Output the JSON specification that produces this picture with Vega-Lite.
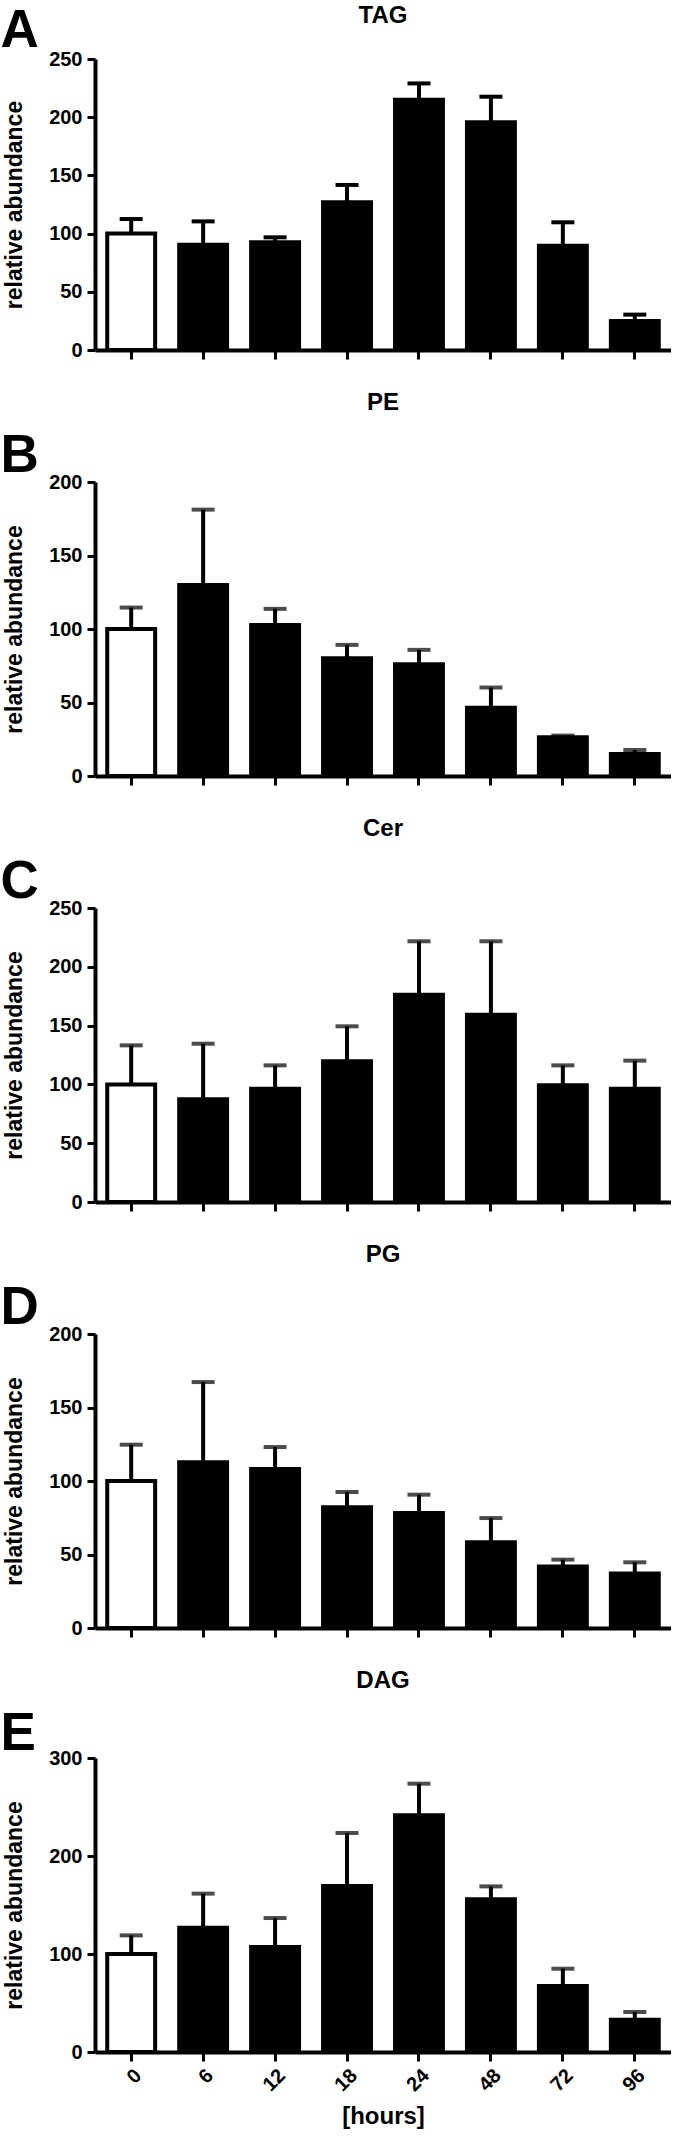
{
  "$schema": "https://vega.github.io/schema/vega-lite/v6.json",
  "padding": {"left": 0, "top": 4, "right": 0, "bottom": 0},
  "config": {
    "font": "Liberation Sans",
    "view": {"stroke": null},
    "title": {"fontSize": 24, "fontWeight": "bold", "color": "black", "anchor": "middle", "frame": "group"},
    "axis": {"domainColor": "black", "tickColor": "black", "labelColor": "black", "titleColor": "black", "grid": false}
  },
  "datasets": {
    "lip": [
      {"lipid": "TAG", "h": "0", "mean": 100, "upper": 112.5},
      {"lipid": "TAG", "h": "6", "mean": 90.5, "upper": 110.5},
      {"lipid": "TAG", "h": "12", "mean": 92.5, "upper": 96.8},
      {"lipid": "TAG", "h": "18", "mean": 126.9, "upper": 141.8},
      {"lipid": "TAG", "h": "24", "mean": 215, "upper": 229},
      {"lipid": "TAG", "h": "48", "mean": 195.6, "upper": 217.6},
      {"lipid": "TAG", "h": "72", "mean": 89.6, "upper": 109.7},
      {"lipid": "TAG", "h": "96", "mean": 24.9, "upper": 30.4},
      {"lipid": "PE", "h": "0", "mean": 100, "upper": 114.6},
      {"lipid": "PE", "h": "6", "mean": 130, "upper": 181.2},
      {"lipid": "PE", "h": "12", "mean": 102.8, "upper": 113.7},
      {"lipid": "PE", "h": "18", "mean": 80.1, "upper": 89.2},
      {"lipid": "PE", "h": "24", "mean": 76, "upper": 85.8},
      {"lipid": "PE", "h": "48", "mean": 46.5, "upper": 60.2},
      {"lipid": "PE", "h": "72", "mean": 26.3, "upper": 27.5},
      {"lipid": "PE", "h": "96", "mean": 15, "upper": 17.7},
      {"lipid": "Cer", "h": "0", "mean": 100, "upper": 133.2},
      {"lipid": "Cer", "h": "6", "mean": 87.3, "upper": 134.6},
      {"lipid": "Cer", "h": "12", "mean": 96.4, "upper": 116.2},
      {"lipid": "Cer", "h": "18", "mean": 119.6, "upper": 149.4},
      {"lipid": "Cer", "h": "24", "mean": 176.3, "upper": 221.7},
      {"lipid": "Cer", "h": "48", "mean": 159.3, "upper": 221.7},
      {"lipid": "Cer", "h": "72", "mean": 99.2, "upper": 116.2},
      {"lipid": "Cer", "h": "96", "mean": 96.4, "upper": 120.2},
      {"lipid": "PG", "h": "0", "mean": 100, "upper": 124.7},
      {"lipid": "PG", "h": "6", "mean": 112.7, "upper": 167.3},
      {"lipid": "PG", "h": "12", "mean": 108.2, "upper": 123.1},
      {"lipid": "PG", "h": "18", "mean": 82.1, "upper": 92.5},
      {"lipid": "PG", "h": "24", "mean": 78.2, "upper": 90.7},
      {"lipid": "PG", "h": "48", "mean": 58.3, "upper": 74.8},
      {"lipid": "PG", "h": "72", "mean": 41.9, "upper": 46.5},
      {"lipid": "PG", "h": "96", "mean": 37, "upper": 44.7},
      {"lipid": "DAG", "h": "0", "mean": 100, "upper": 119},
      {"lipid": "DAG", "h": "6", "mean": 126.9, "upper": 161.6},
      {"lipid": "DAG", "h": "12", "mean": 107.1, "upper": 136.7},
      {"lipid": "DAG", "h": "18", "mean": 169.4, "upper": 223.5},
      {"lipid": "DAG", "h": "24", "mean": 241.5, "upper": 273.8},
      {"lipid": "DAG", "h": "48", "mean": 155.8, "upper": 169},
      {"lipid": "DAG", "h": "72", "mean": 67.3, "upper": 85},
      {"lipid": "DAG", "h": "96", "mean": 33, "upper": 40.8}
    ]
  },
  "data": {"name": "lip"},
  "spacing": 30,
  "vconcat": [
    {
      "width": 576, "height": 291,
      "title": {"text": "TAG", "offset": -24},
      "transform": [{"filter": "datum.lipid === 'TAG'"}],
      "layer": [
        {"mark": {"type": "bar", "stroke": "black", "strokeWidth": 4},
         "encoding": {
           "x": {"field": "h", "type": "ordinal", "sort": ["0","6","12","18","24","48","72","96"], "scale": {"paddingInner": 0.334, "paddingOuter": 0.17},
                 "axis": {"orient": "bottom", "labels": false, "title": null, "domainWidth": 4, "tickWidth": 3, "tickSize": 9}},
           "y": {"field": "mean", "type": "quantitative", "scale": {"domain": [0, 250], "nice": false},
                 "axis": {"title": "relative abundance", "values": [0,50,100,150,200,250], "tickSize": 8, "tickWidth": 3, "domainWidth": 4, "labelFontSize": 20, "labelFontWeight": "bold", "labelPadding": 5, "labelFlush": false, "titleFontSize": 23, "titleFontWeight": "bold", "titlePadding": 22}},
           "fill": {"condition": {"test": "datum.h === '0'", "value": "white"}, "value": "black"}
         }},
        {"mark": {"type": "rule", "strokeWidth": 4, "color": "black"},
         "encoding": {
           "x": {"field": "h", "type": "ordinal", "sort": ["0","6","12","18","24","48","72","96"], "axis": null},
           "y": {"field": "mean", "type": "quantitative", "axis": null},
           "y2": {"field": "upper"}
         }},
        {"mark": {"type": "tick", "size": 23, "thickness": 4, "color": "black", "orient": "horizontal", "opacity": 1},
         "encoding": {
           "x": {"field": "h", "type": "ordinal", "sort": ["0","6","12","18","24","48","72","96"],
                 "axis": {"orient": "top", "domain": false, "ticks": false, "labels": false, "title": "A", "titleFontSize": 53, "titleFontWeight": "bold", "titleAnchor": "start", "titleAlign": "left", "titleX": -95, "titleY": -13, "titleBaseline": "alphabetic", "titleAngle": 0}},
           "y": {"field": "upper", "type": "quantitative", "axis": null}
         }}
      ],
      "resolve": {"axis": {"x": "independent", "y": "independent"}}
    },
    {
      "width": 576, "height": 294,
      "title": {"text": "PE", "offset": 14},
      "transform": [{"filter": "datum.lipid === 'PE'"}],
      "layer": [
        {"mark": {"type": "bar", "stroke": "black", "strokeWidth": 4},
         "encoding": {
           "x": {"field": "h", "type": "ordinal", "sort": ["0","6","12","18","24","48","72","96"], "scale": {"paddingInner": 0.334, "paddingOuter": 0.17},
                 "axis": {"orient": "bottom", "labels": false, "title": null, "domainWidth": 4, "tickWidth": 3, "tickSize": 9}},
           "y": {"field": "mean", "type": "quantitative", "scale": {"domain": [0, 200], "nice": false},
                 "axis": {"title": "relative abundance", "values": [0,50,100,150,200], "tickSize": 8, "tickWidth": 3, "domainWidth": 4, "labelFontSize": 20, "labelFontWeight": "bold", "labelPadding": 5, "labelFlush": false, "titleFontSize": 23, "titleFontWeight": "bold", "titlePadding": 22}},
           "fill": {"condition": {"test": "datum.h === '0'", "value": "white"}, "value": "black"}
         }},
        {"mark": {"type": "rule", "strokeWidth": 4, "color": "black"},
         "encoding": {
           "x": {"field": "h", "type": "ordinal", "sort": ["0","6","12","18","24","48","72","96"], "axis": null},
           "y": {"field": "mean", "type": "quantitative", "axis": null},
           "y2": {"field": "upper"}
         }},
        {"mark": {"type": "tick", "size": 23, "thickness": 4, "color": "black", "orient": "horizontal"},
         "encoding": {
           "x": {"field": "h", "type": "ordinal", "sort": ["0","6","12","18","24","48","72","96"],
                 "axis": {"orient": "top", "domain": false, "ticks": false, "labels": false, "title": "B", "titleFontSize": 53, "titleFontWeight": "bold", "titleAnchor": "start", "titleAlign": "left", "titleX": -95, "titleY": -11, "titleBaseline": "alphabetic", "titleAngle": 0}},
           "y": {"field": "upper", "type": "quantitative", "axis": null}
         }}
      ],
      "resolve": {"axis": {"x": "independent", "y": "independent"}}
    },
    {
      "width": 576, "height": 294,
      "title": {"text": "Cer", "offset": 14},
      "transform": [{"filter": "datum.lipid === 'Cer'"}],
      "layer": [
        {"mark": {"type": "bar", "stroke": "black", "strokeWidth": 4},
         "encoding": {
           "x": {"field": "h", "type": "ordinal", "sort": ["0","6","12","18","24","48","72","96"], "scale": {"paddingInner": 0.334, "paddingOuter": 0.17},
                 "axis": {"orient": "bottom", "labels": false, "title": null, "domainWidth": 4, "tickWidth": 3, "tickSize": 9}},
           "y": {"field": "mean", "type": "quantitative", "scale": {"domain": [0, 250], "nice": false},
                 "axis": {"title": "relative abundance", "values": [0,50,100,150,200,250], "tickSize": 8, "tickWidth": 3, "domainWidth": 4, "labelFontSize": 20, "labelFontWeight": "bold", "labelPadding": 5, "labelFlush": false, "titleFontSize": 23, "titleFontWeight": "bold", "titlePadding": 22}},
           "fill": {"condition": {"test": "datum.h === '0'", "value": "white"}, "value": "black"}
         }},
        {"mark": {"type": "rule", "strokeWidth": 4, "color": "black"},
         "encoding": {
           "x": {"field": "h", "type": "ordinal", "sort": ["0","6","12","18","24","48","72","96"], "axis": null},
           "y": {"field": "mean", "type": "quantitative", "axis": null},
           "y2": {"field": "upper"}
         }},
        {"mark": {"type": "tick", "size": 23, "thickness": 4, "color": "black", "orient": "horizontal"},
         "encoding": {
           "x": {"field": "h", "type": "ordinal", "sort": ["0","6","12","18","24","48","72","96"],
                 "axis": {"orient": "top", "domain": false, "ticks": false, "labels": false, "title": "C", "titleFontSize": 53, "titleFontWeight": "bold", "titleAnchor": "start", "titleAlign": "left", "titleX": -95, "titleY": -11, "titleBaseline": "alphabetic", "titleAngle": 0}},
           "y": {"field": "upper", "type": "quantitative", "axis": null}
         }}
      ],
      "resolve": {"axis": {"x": "independent", "y": "independent"}}
    },
    {
      "width": 576, "height": 294,
      "title": {"text": "PG", "offset": 14},
      "transform": [{"filter": "datum.lipid === 'PG'"}],
      "layer": [
        {"mark": {"type": "bar", "stroke": "black", "strokeWidth": 4},
         "encoding": {
           "x": {"field": "h", "type": "ordinal", "sort": ["0","6","12","18","24","48","72","96"], "scale": {"paddingInner": 0.334, "paddingOuter": 0.17},
                 "axis": {"orient": "bottom", "labels": false, "title": null, "domainWidth": 4, "tickWidth": 3, "tickSize": 9}},
           "y": {"field": "mean", "type": "quantitative", "scale": {"domain": [0, 200], "nice": false},
                 "axis": {"title": "relative abundance", "values": [0,50,100,150,200], "tickSize": 8, "tickWidth": 3, "domainWidth": 4, "labelFontSize": 20, "labelFontWeight": "bold", "labelPadding": 5, "labelFlush": false, "titleFontSize": 23, "titleFontWeight": "bold", "titlePadding": 22}},
           "fill": {"condition": {"test": "datum.h === '0'", "value": "white"}, "value": "black"}
         }},
        {"mark": {"type": "rule", "strokeWidth": 4, "color": "black"},
         "encoding": {
           "x": {"field": "h", "type": "ordinal", "sort": ["0","6","12","18","24","48","72","96"], "axis": null},
           "y": {"field": "mean", "type": "quantitative", "axis": null},
           "y2": {"field": "upper"}
         }},
        {"mark": {"type": "tick", "size": 23, "thickness": 4, "color": "black", "orient": "horizontal"},
         "encoding": {
           "x": {"field": "h", "type": "ordinal", "sort": ["0","6","12","18","24","48","72","96"],
                 "axis": {"orient": "top", "domain": false, "ticks": false, "labels": false, "title": "D", "titleFontSize": 53, "titleFontWeight": "bold", "titleAnchor": "start", "titleAlign": "left", "titleX": -95, "titleY": -11, "titleBaseline": "alphabetic", "titleAngle": 0}},
           "y": {"field": "upper", "type": "quantitative", "axis": null}
         }}
      ],
      "resolve": {"axis": {"x": "independent", "y": "independent"}}
    },
    {
      "width": 576, "height": 294,
      "title": {"text": "DAG", "offset": 14},
      "transform": [{"filter": "datum.lipid === 'DAG'"}],
      "layer": [
        {"mark": {"type": "bar", "stroke": "black", "strokeWidth": 4},
         "encoding": {
           "x": {"field": "h", "type": "ordinal", "sort": ["0","6","12","18","24","48","72","96"], "scale": {"paddingInner": 0.334, "paddingOuter": 0.17},
                 "axis": {"orient": "bottom", "title": "[hours]", "titleFontSize": 24, "titleFontWeight": "bold", "titlePadding": 10, "labelAngle": -45, "labelFontSize": 20, "labelFontWeight": "bold", "labelPadding": 4, "domainWidth": 4, "tickWidth": 3, "tickSize": 9}},
           "y": {"field": "mean", "type": "quantitative", "scale": {"domain": [0, 300], "nice": false},
                 "axis": {"title": "relative abundance", "values": [0,100,200,300], "tickSize": 8, "tickWidth": 3, "domainWidth": 4, "labelFontSize": 20, "labelFontWeight": "bold", "labelPadding": 5, "labelFlush": false, "titleFontSize": 23, "titleFontWeight": "bold", "titlePadding": 22}},
           "fill": {"condition": {"test": "datum.h === '0'", "value": "white"}, "value": "black"}
         }},
        {"mark": {"type": "rule", "strokeWidth": 4, "color": "black"},
         "encoding": {
           "x": {"field": "h", "type": "ordinal", "sort": ["0","6","12","18","24","48","72","96"], "axis": null},
           "y": {"field": "mean", "type": "quantitative", "axis": null},
           "y2": {"field": "upper"}
         }},
        {"mark": {"type": "tick", "size": 23, "thickness": 4, "color": "black", "orient": "horizontal"},
         "encoding": {
           "x": {"field": "h", "type": "ordinal", "sort": ["0","6","12","18","24","48","72","96"],
                 "axis": {"orient": "top", "domain": false, "ticks": false, "labels": false, "title": "E", "titleFontSize": 53, "titleFontWeight": "bold", "titleAnchor": "start", "titleAlign": "left", "titleX": -95, "titleY": -9, "titleBaseline": "alphabetic", "titleAngle": 0}},
           "y": {"field": "upper", "type": "quantitative", "axis": null}
         }}
      ],
      "resolve": {"axis": {"x": "independent", "y": "independent"}}
    }
  ]
}
